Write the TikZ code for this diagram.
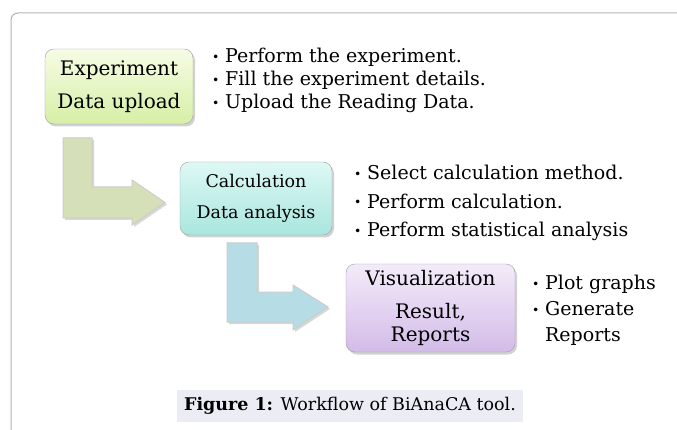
\documentclass[tikz,border=0pt]{standalone}
\usepackage{fontspec}
\setmainfont{DejaVu Serif}
\usetikzlibrary{shadows}
\definecolor{frame}{HTML}{B4B4B4}
\definecolor{exptop}{HTML}{F6FCE4}
\definecolor{expbot}{HTML}{D6EFA6}
\definecolor{calctop}{HTML}{DDF8F5}
\definecolor{calcbot}{HTML}{A9E6DD}
\definecolor{vistop}{HTML}{F3EBF9}
\definecolor{visbot}{HTML}{D3BCE8}
\definecolor{greenarrow}{HTML}{D6E0B8}
\definecolor{bluearrow}{HTML}{B6DDE6}
\definecolor{capbg}{HTML}{ECECF4}
\newcommand{\itm}{\raisebox{0.12ex}{\scalebox{0.65}{•}}\hspace{0.3em}}

\begin{document}
\begin{tikzpicture}[x=1pt,y=-1pt,
  box/.style={draw=gray!75, rounded corners=9pt, align=center, inner sep=0pt,
    drop shadow={opacity=0.35, shadow xshift=2pt, shadow yshift=-2.5pt}},
  bigarrow/.style={draw=gray!40, line width=1pt,
    drop shadow={opacity=0.3, shadow xshift=2pt, shadow yshift=-2pt}},
  items/.style={anchor=north west, align=left, inner sep=0pt}]
\useasboundingbox (0,0) rectangle (677,430);
\fill[white] (0,0) rectangle (677,430);
% frame of the figure
\draw[frame, line width=1pt, rounded corners=7pt] (11,430) -- (11,13) -- (677,13);

% bent arrows
\fill[greenarrow, bigarrow] (63,138) -- (92,138) -- (92,187) -- (132,187) -- (132,180) -- (165,202.5)
  -- (132,225) -- (132,218) -- (63,218) -- cycle;
\fill[bluearrow, bigarrow] (227,243) -- (257,243) -- (257,292) -- (293,292) -- (293,285) -- (328,307)
  -- (293,330) -- (293,322) -- (227,322) -- cycle;

% steps
\node[box, top color=exptop, bottom color=expbot, minimum width=148, minimum height=75,
  font=\fontsize{20}{24}\selectfont] (expt) at (119,86.5) {\raisebox{-2pt}{Experiment}\\[9pt]\raisebox{-2pt}{Data upload}};
\node[box, top color=calctop, bottom color=calcbot, minimum width=152, minimum height=73,
  font=\fontsize{17.5}{21}\selectfont] (calc) at (256,198.5) {Calculation\\[10pt]Data analysis};
\node[box, top color=vistop, bottom color=visbot, minimum width=169, minimum height=88,
  font=\fontsize{20}{23}\selectfont] (vis) at (430.5,308) {Visualization\\[10pt]Result,\\Reports};

% what is done in each step
\node[items, font=\fontsize{19}{23}\selectfont] (exptitems) at (212,48)
  {\itm Perform the experiment.\\\itm Fill the experiment details.\\\itm Upload the Reading Data.};
\node[items, font=\fontsize{19}{28.5}\selectfont] (calcitems) at (354,165)
  {\itm Select calculation method.\\\itm Perform calculation.\\\itm Perform statistical analysis};
\node[items, font=\fontsize{19}{26}\selectfont] (visitems) at (532,275)
  {\itm Plot graphs\\\itm Generate\\\phantom{\itm}Reports};

% caption
\fill[capbg] (177,390) rectangle (523,422);
\node[font=\fontsize{17.5}{20}\selectfont] (caption) at (350,406) {\textbf{Figure 1:} Workflow of BiAnaCA tool.};
\end{tikzpicture}
\end{document}
